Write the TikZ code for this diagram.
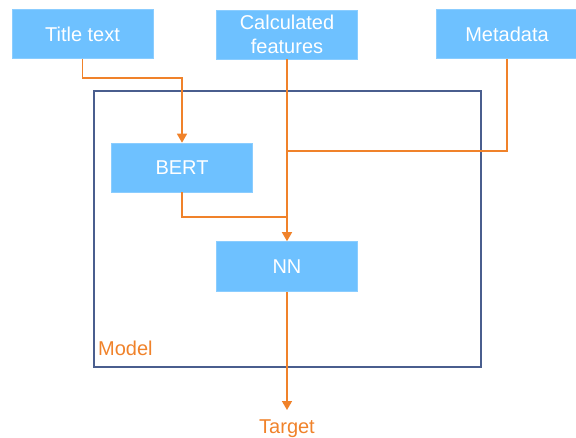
\documentclass[tikz,border=0pt]{standalone}
\usepackage{fontspec}
\setmainfont{Liberation Sans}
\usetikzlibrary{arrows.meta}
\definecolor{boxblue}{HTML}{6EC1FF}
\definecolor{flow}{HTML}{F0822A}
\definecolor{frame}{HTML}{4A5E8E}
\tikzset{
  block/.style={fill=boxblue, draw=boxblue!80!white, line width=0.6pt, text=white,
    minimum width=141pt, minimum height=49pt, inner sep=0pt, align=center,
    font=\fontsize{20pt}{24pt}\selectfont},
  link/.style={draw=flow, line width=1.5pt},
  tip/.style={-{Triangle[width=10pt,length=9pt]}},
  lbl/.style={text=flow, inner sep=0pt, font=\fontsize{20pt}{24pt}\selectfont}
}
\begin{document}
\begin{tikzpicture}[x=1pt,y=-1pt]
  \useasboundingbox (0,0) rectangle (576,437);
  % model frame
  \draw[frame, line width=1.5pt] (94,91) rectangle (481,367);
  \node[lbl, anchor=base west] (model) at (98,355) {Model};
  % blocks
  \node[block] (title) at (82.5,34) {Title text};
  \node[block] (calc) at (287,34.5) {Calculated\\features};
  \node[block, minimum width=142pt] (meta) at (507,34) {Metadata};
  \node[block] (bert) at (182,167.5) {BERT};
  \node[block, minimum height=50pt] (nn) at (287,266.5) {NN};
  \node[lbl, anchor=base] (target) at (287,433) {Target};
  % junctions and the end of the output arrow
  \coordinate (jm) at (calc.south |- 0,151);
  \coordinate (jb) at (calc.south |- 0,217);
  \coordinate (out) at (287,410);
  % connectors
  \draw[link, tip] (title.south) -- ++(0,19) -| (bert.north);
  \draw[link, tip] (calc.south) -- (nn.north);
  \draw[link] (meta.south) |- (jm);
  \draw[link] (bert.south) |- (jb);
  \draw[link, tip] (nn.south) -- (out);
\end{tikzpicture}
\end{document}
